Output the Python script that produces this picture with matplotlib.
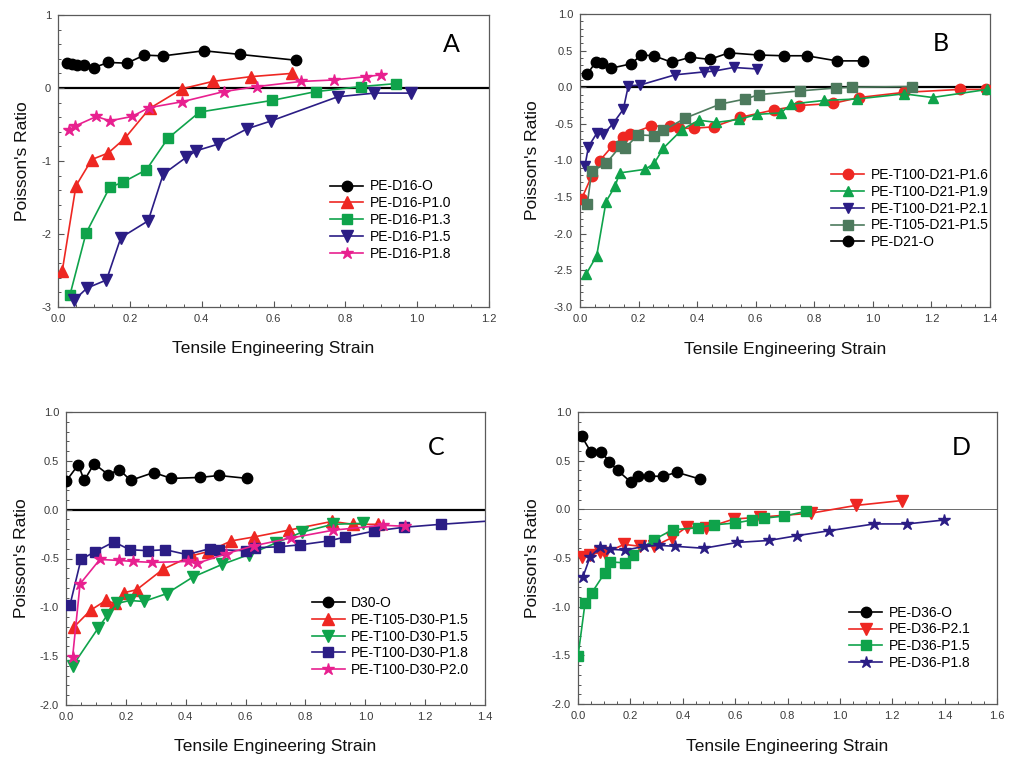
import matplotlib
matplotlib.use("Agg")
import matplotlib.pyplot as plt
from matplotlib.ticker import MultipleLocator, FormatStrFormatter

plt.rcParams['font.family'] = ['Liberation Sans', 'DejaVu Sans']
plt.rcParams['axes.unicode_minus'] = False

# ---------------- Panel A data ----------------
a_o_x = [0.025, 0.039, 0.053, 0.071, 0.1, 0.14, 0.192, 0.24, 0.293, 0.406, 0.507, 0.663]
a_o_y = [0.34, 0.33, 0.315, 0.31, 0.28, 0.35, 0.34, 0.45, 0.44, 0.51, 0.46, 0.38]
a_p10_x = [0.012, 0.05, 0.094, 0.14, 0.186, 0.255, 0.346, 0.431, 0.536, 0.651]
a_p10_y = [-2.50, -1.34, -0.98, -0.89, -0.69, -0.28, -0.01, 0.09, 0.155, 0.20]
a_p13_x = [0.033, 0.078, 0.144, 0.181, 0.246, 0.306, 0.394, 0.596, 0.717, 0.844, 0.941]
a_p13_y = [-2.84, -1.99, -1.36, -1.29, -1.12, -0.69, -0.33, -0.17, -0.05, 0.02, 0.06]
a_p15_x = [0.044, 0.081, 0.135, 0.175, 0.251, 0.293, 0.357, 0.385, 0.445, 0.526, 0.594, 0.779, 0.881, 0.984]
a_p15_y = [-2.91, -2.74, -2.63, -2.05, -1.82, -1.18, -0.95, -0.86, -0.77, -0.56, -0.45, -0.12, -0.07, -0.07]
a_p18_x = [0.03, 0.048, 0.107, 0.144, 0.206, 0.253, 0.344, 0.461, 0.554, 0.677, 0.768, 0.857, 0.899]
a_p18_y = [-0.58, -0.52, -0.39, -0.45, -0.39, -0.27, -0.19, -0.05, 0.02, 0.09, 0.11, 0.155, 0.18]

# ---------------- Panel B data ----------------
b_p16_x = [0.006, 0.04, 0.068, 0.111, 0.148, 0.171, 0.242, 0.308, 0.337, 0.388, 0.457, 0.548,
           0.662, 0.748, 0.865, 0.953, 1.107, 1.296, 1.387]
b_p16_y = [-1.52, -1.21, -1.0, -0.80, -0.68, -0.64, -0.53, -0.53, -0.56, -0.56, -0.54, -0.41,
           -0.31, -0.25, -0.22, -0.14, -0.07, -0.03, -0.03]
b_p19_x = [0.021, 0.057, 0.089, 0.12, 0.135, 0.223, 0.253, 0.285, 0.348, 0.405, 0.466, 0.542,
           0.605, 0.685, 0.722, 0.833, 0.947, 1.107, 1.204, 1.39]
b_p19_y = [-2.55, -2.30, -1.56, -1.35, -1.17, -1.12, -1.04, -0.83, -0.58, -0.45, -0.48, -0.44,
           -0.37, -0.35, -0.23, -0.18, -0.16, -0.09, -0.14, -0.03]
b_p21_x = [0.017, 0.029, 0.057, 0.080, 0.112, 0.148, 0.165, 0.205, 0.325, 0.425, 0.457, 0.525, 0.603]
b_p21_y = [-1.07, -0.81, -0.63, -0.64, -0.50, -0.30, 0.02, 0.03, 0.17, 0.21, 0.22, 0.27, 0.25]
b_t105_x = [0.025, 0.04, 0.089, 0.139, 0.154, 0.198, 0.251, 0.285, 0.36, 0.479, 0.565, 0.611,
            0.751, 0.873, 0.928, 1.132]
b_t105_y = [-1.59, -1.15, -1.04, -0.80, -0.83, -0.65, -0.66, -0.59, -0.42, -0.23, -0.16, -0.10,
            -0.05, -0.01, 0.0, 0.01]
b_o_x = [0.025, 0.053, 0.074, 0.106, 0.175, 0.209, 0.252, 0.314, 0.377, 0.443, 0.508, 0.61,
         0.695, 0.774, 0.877, 0.966]
b_o_y = [0.18, 0.34, 0.33, 0.26, 0.32, 0.44, 0.43, 0.34, 0.41, 0.38, 0.47, 0.44, 0.43, 0.43, 0.36, 0.36]

# ---------------- Panel C data ----------------
c_o_x = [0.0, 0.041, 0.061, 0.094, 0.141, 0.178, 0.216, 0.293, 0.352, 0.447, 0.511, 0.606]
c_o_y = [0.29, 0.46, 0.30, 0.47, 0.36, 0.41, 0.30, 0.38, 0.32, 0.33, 0.35, 0.32]
c_t105_x = [0.027, 0.082, 0.133, 0.163, 0.194, 0.236, 0.324, 0.422, 0.474, 0.552, 0.627, 0.744,
            0.889, 0.958, 1.041]
c_t105_y = [-1.20, -1.03, -0.93, -0.96, -0.85, -0.82, -0.61, -0.47, -0.43, -0.32, -0.28, -0.21,
            -0.12, -0.15, -0.15]
c_p15_x = [0.022, 0.108, 0.138, 0.171, 0.213, 0.26, 0.336, 0.424, 0.522, 0.611, 0.702, 0.789, 0.891, 0.991]
c_p15_y = [-1.60, -1.21, -1.08, -0.96, -0.93, -0.94, -0.86, -0.69, -0.56, -0.46, -0.34, -0.23, -0.15, -0.14]
c_p18_x = [0.013, 0.05, 0.097, 0.16, 0.213, 0.274, 0.332, 0.404, 0.48, 0.511, 0.6, 0.63, 0.711,
           0.783, 0.878, 0.933, 1.028, 1.13, 1.252, 1.42]
c_p18_y = [-0.98, -0.51, -0.43, -0.33, -0.41, -0.42, -0.41, -0.46, -0.40, -0.41, -0.42, -0.39, -0.38,
           -0.36, -0.32, -0.28, -0.22, -0.18, -0.15, -0.115]
c_p20_x = [0.022, 0.047, 0.113, 0.178, 0.224, 0.289, 0.408, 0.438, 0.536, 0.627, 0.752, 0.893, 1.058, 1.133]
c_p20_y = [-1.51, -0.76, -0.51, -0.52, -0.53, -0.54, -0.53, -0.55, -0.45, -0.37, -0.29, -0.21, -0.16, -0.17]

# ---------------- Panel D data ----------------
d_o_x = [0.014, 0.049, 0.088, 0.12, 0.151, 0.202, 0.229, 0.272, 0.324, 0.378, 0.467]
d_o_y = [0.75, 0.59, 0.59, 0.49, 0.40, 0.28, 0.34, 0.34, 0.34, 0.38, 0.31]
d_p21_x = [0.014, 0.046, 0.084, 0.103, 0.176, 0.238, 0.291, 0.359, 0.416, 0.49, 0.595, 0.695,
           0.889, 1.061, 1.236]
d_p21_y = [-0.49, -0.47, -0.44, -0.45, -0.36, -0.38, -0.38, -0.29, -0.18, -0.19, -0.10, -0.08,
           -0.04, 0.04, 0.09]
d_p15_x = [0.0, 0.027, 0.052, 0.103, 0.123, 0.179, 0.209, 0.291, 0.361, 0.457, 0.518, 0.601,
           0.665, 0.71, 0.787, 0.87]
d_p15_y = [-1.51, -0.96, -0.86, -0.65, -0.54, -0.55, -0.47, -0.31, -0.21, -0.19, -0.16, -0.14,
           -0.11, -0.09, -0.07, -0.02]
d_p18_x = [0.018, 0.046, 0.084, 0.123, 0.18, 0.253, 0.308, 0.372, 0.48, 0.608, 0.729, 0.838,
           0.959, 1.131, 1.256, 1.397]
d_p18_y = [-0.70, -0.49, -0.39, -0.41, -0.42, -0.38, -0.37, -0.38, -0.40, -0.34, -0.32, -0.27,
           -0.22, -0.15, -0.15, -0.11]

# ---------------- styling ----------------
BLACK = '#000000'
RED = '#ee2722'
GREEN = '#0fa34b'
NAVY = '#2b1d85'
PINK = '#e8208f'
GRAYGREEN = '#4d7a5d'

W, H = 1015, 760
fig = plt.figure(figsize=(W / 100, H / 100), dpi=100)


def make_axes(l, r, t, b):
    return fig.add_axes([l / W, 1 - b / H, (r - l) / W, (b - t) / H])


def style(ax, xlim, ylim, xmaj, ymaj, ymin, yfmt, zero_lw, zero_col):
    ax.set_xlim(*xlim)
    ax.set_ylim(*ylim)
    ax.xaxis.set_major_locator(MultipleLocator(xmaj))
    ax.xaxis.set_minor_locator(MultipleLocator(0.05))
    ax.yaxis.set_major_locator(MultipleLocator(ymaj))
    ax.yaxis.set_minor_locator(MultipleLocator(ymin))
    ax.xaxis.set_major_formatter(FormatStrFormatter('%.1f'))
    ax.yaxis.set_major_formatter(FormatStrFormatter(yfmt))
    ax.tick_params(which='both', direction='in', top=False, right=False,
                   labelsize=8, labelcolor='#3a3a3a', color='#555555')
    ax.tick_params(which='major', length=4, width=0.8, pad=5)
    ax.tick_params(which='minor', length=2.2, width=0.7)
    for s in ax.spines.values():
        s.set_color('#5a5a5a')
        s.set_linewidth(0.9)
    ax.axhline(0, color=zero_col, lw=zero_lw, zorder=1)
    ax.set_xlabel('Tensile Engineering Strain', fontsize=12.5, color='#111111')
    ax.set_ylabel("Poisson's Ratio", fontsize=12.5, color='#111111')


def series(ax, x, y, color, marker, ms, label):
    ax.plot(x, y, color=color, marker=marker, ms=ms, mec=color, mfc=color,
            lw=1.2, label=label, zorder=3)


def legend(ax, ax_x, ax_y):
    ax.legend(loc='upper left', bbox_to_anchor=(ax_x, ax_y), frameon=False,
              fontsize=10, handlelength=2.4, handletextpad=0.45,
              labelspacing=0.2, numpoints=1, borderpad=0.3)


LETTER_FONT = ['Lato', 'Open Sans', 'DejaVu Sans']

# ---------------- Panel A ----------------
axA = make_axes(58, 489, 15, 307)
style(axA, (0, 1.2), (-3, 1), 0.2, 1, 0.2, '%d', 1.6, BLACK)
series(axA, a_o_x, a_o_y, BLACK, 'o', 7.5, 'PE-D16-O')
series(axA, a_p10_x, a_p10_y, RED, '^', 8, 'PE-D16-P1.0')
series(axA, a_p13_x, a_p13_y, GREEN, 's', 7, 'PE-D16-P1.3')
series(axA, a_p15_x, a_p15_y, NAVY, 'v', 8, 'PE-D16-P1.5')
series(axA, a_p18_x, a_p18_y, PINK, '*', 9, 'PE-D16-P1.8')
legend(axA, 0.605, 0.475)
axA.xaxis.set_label_coords(0.5, -0.118)
axA.yaxis.set_label_coords(-0.065, 0.5)
axA.text(0.912, 0.9, 'A', transform=axA.transAxes, fontsize=18, ha='center', va='center',
         family=LETTER_FONT)

# ---------------- Panel B ----------------
axB = make_axes(580, 990, 14, 307)
style(axB, (0, 1.4), (-3, 1), 0.2, 0.5, 0.1, '%.1f', 1.6, BLACK)
series(axB, b_p16_x, b_p16_y, RED, 'o', 7.5, 'PE-T100-D21-P1.6')
series(axB, b_p19_x, b_p19_y, GREEN, '^', 7.5, 'PE-T100-D21-P1.9')
series(axB, b_p21_x, b_p21_y, NAVY, 'v', 7.5, 'PE-T100-D21-P2.1')
series(axB, b_t105_x, b_t105_y, GRAYGREEN, 's', 6.5, 'PE-T105-D21-P1.5')
series(axB, b_o_x, b_o_y, BLACK, 'o', 7.5, 'PE-D21-O')
legend(axB, 0.585, 0.512)
axB.xaxis.set_label_coords(0.5, -0.118)
axB.yaxis.set_label_coords(-0.098, 0.5)
axB.text(0.88, 0.9, 'B', transform=axB.transAxes, fontsize=18, ha='center', va='center',
         family=LETTER_FONT)

# ---------------- Panel C ----------------
axC = make_axes(66, 485, 412, 705)
style(axC, (0, 1.4), (-2, 1), 0.2, 0.5, 0.1, '%.1f', 1.6, BLACK)
series(axC, c_o_x, c_o_y, BLACK, 'o', 7.5, 'D30-O')
series(axC, c_t105_x, c_t105_y, RED, '^', 8, 'PE-T105-D30-P1.5')
series(axC, c_p15_x, c_p15_y, GREEN, 'v', 8, 'PE-T100-D30-P1.5')
series(axC, c_p18_x, c_p18_y, NAVY, 's', 7, 'PE-T100-D30-P1.8')
series(axC, c_p20_x, c_p20_y, PINK, '*', 9, 'PE-T100-D30-P2.0')
legend(axC, 0.56, 0.41)
axC.xaxis.set_label_coords(0.5, -0.117)
axC.yaxis.set_label_coords(-0.088, 0.5)
axC.text(0.883, 0.88, 'C', transform=axC.transAxes, fontsize=18, ha='center', va='center',
         family=LETTER_FONT)

# ---------------- Panel D ----------------
axD = make_axes(578, 997, 412, 704)
style(axD, (0, 1.6), (-2, 1), 0.2, 0.5, 0.1, '%.1f', 0.7, '#6a6a6a')
series(axD, d_o_x, d_o_y, BLACK, 'o', 7.5, 'PE-D36-O')
series(axD, d_p21_x, d_p21_y, RED, 'v', 8, 'PE-D36-P2.1')
series(axD, d_p15_x, d_p15_y, GREEN, 's', 7, 'PE-D36-P1.5')
series(axD, d_p18_x, d_p18_y, NAVY, '*', 9, 'PE-D36-P1.8')
legend(axD, 0.62, 0.375)
axD.xaxis.set_label_coords(0.5, -0.12)
axD.yaxis.set_label_coords(-0.091, 0.5)
axD.text(0.915, 0.88, 'D', transform=axD.transAxes, fontsize=18, ha='center', va='center',
         family=LETTER_FONT)

fig.savefig('out.png', dpi=100)
